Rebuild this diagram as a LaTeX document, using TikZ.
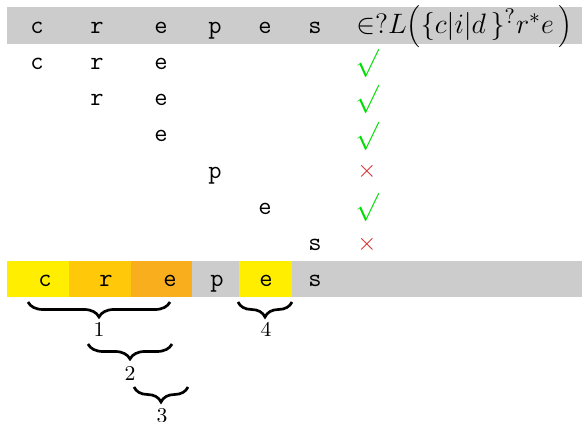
\documentclass[tikz,border=0pt]{standalone}
\usetikzlibrary{decorations.pathreplacing}

\definecolor{bargray}{RGB}{204,204,204}
\definecolor{hlyellow}{RGB}{255,238,0}
\definecolor{hlgold}{RGB}{255,201,10}
\definecolor{hlorange}{RGB}{249,174,30}
\definecolor{okgreen}{RGB}{0,220,0}
\definecolor{badred}{RGB}{214,40,40}

\tikzset{
  letter/.style={anchor=base, inner sep=0pt, font=\fontsize{11}{13}\selectfont\ttfamily},
  okmark/.style={inner sep=0pt, text=okgreen, scale=1.2},
  badmark/.style={inner sep=0pt, text=badred, scale=1.05},
  underbrace/.style={decorate, line width=1.15pt,
    decoration={brace, mirror, amplitude=6.4pt}},
  bracelabel/.style={inner sep=0pt, font=\small},
}

\begin{document}
\begin{tikzpicture}[x=0.4274pt, y=-0.4274pt]
\useasboundingbox (0,0) rectangle (582,422);

% header bar
\fill[bargray] (7,7) rectangle (582,44);
\node[letter] (h1) at (37,33.3) {c};
\node[letter] (h2) at (97,33.3) {r};
\node[letter] (h3) at (161,33.3) {e};
\node[letter] (h4) at (215,33.3) {p};
\node[letter] (h5) at (265,33.3) {e};
\node[letter] (h6) at (315,33.3) {s};
\node[anchor=base west, inner sep=0pt, font=\fontsize{12.5}{15}\selectfont] (lang) at (356,33.3)
  {$\in ?L\Big(\{c|i|d\,\}^?r^*e\,\Big)$};

% candidate substrings and their membership test
\node[letter] (a1) at (37,69.5) {c};
\node[letter] (a2) at (97,69.5) {r};
\node[letter] (a3) at (161,69.5) {e};
\node[okmark] (m1) at (367,63.5) {$\surd$};

\node[letter] (b2) at (97,105.7) {r};
\node[letter] (b3) at (161,105.7) {e};
\node[okmark] (m2) at (367,99.5) {$\surd$};

\node[letter] (c3) at (161,141.9) {e};
\node[okmark] (m3) at (367,136) {$\surd$};

\node[letter] (d4) at (215,178.1) {p};
\node[badmark] (m4) at (367,171.5) {$\times$};

\node[letter] (e5) at (265,214.3) {e};
\node[okmark] (m5) at (367,207.5) {$\surd$};

\node[letter] (f6) at (315,250.5) {s};
\node[badmark] (m6) at (367,244) {$\times$};

% highlighted result bar
\fill[hlyellow] (7,261) rectangle (69,297);
\fill[hlgold] (69,261) rectangle (131,297);
\fill[hlorange] (131,261) rectangle (192,297);
\fill[bargray] (192,261) rectangle (239,297);
\fill[hlyellow] (239,261) rectangle (292,297);
\fill[bargray] (292,261) rectangle (582,297);
\node[letter] (r1) at (45,286.7) {c};
\node[letter] (r2) at (106,286.7) {r};
\node[letter] (r3) at (170,286.7) {e};
\node[letter] (r4) at (217,286.7) {p};
\node[letter] (r5) at (266,286.7) {e};
\node[letter] (r6) at (315,286.7) {s};

% braces marking the matches
\coordinate (b1l) at (28,302);  \coordinate (b1r) at (170,302);
\coordinate (b2l) at (88,344);  \coordinate (b2r) at (172,344);
\coordinate (b3l) at (134,387); \coordinate (b3r) at (188,387);
\coordinate (b4l) at (238,302); \coordinate (b4r) at (292,302);
\draw[underbrace] (b1l) -- (b1r);
\draw[underbrace] (b2l) -- (b2r);
\draw[underbrace] (b3l) -- (b3r);
\draw[underbrace] (b4l) -- (b4r);
\node[bracelabel] (n1) at (99,330) {$1$};
\node[bracelabel] (n2) at (130,374) {$2$};
\node[bracelabel] (n3) at (162,416) {$3$};
\node[bracelabel] (n4) at (266,330) {$4$};
\end{tikzpicture}
\end{document}
